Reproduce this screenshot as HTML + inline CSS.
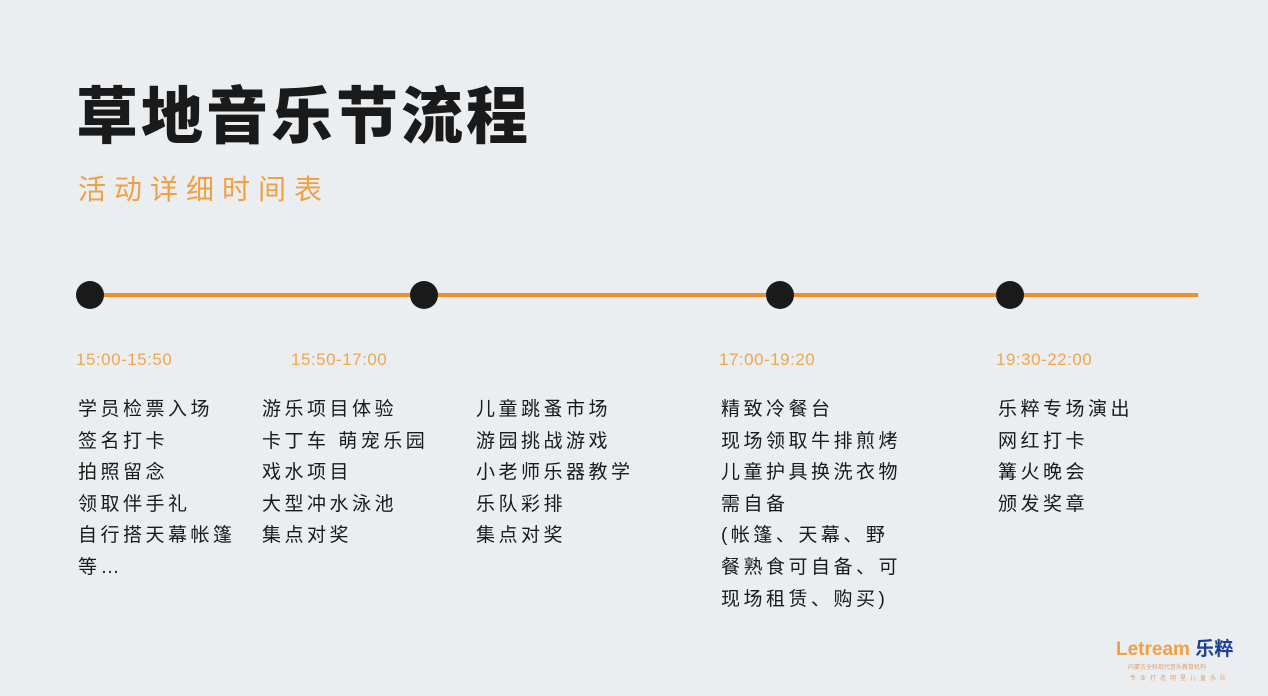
<!DOCTYPE html>
<html><head><meta charset="utf-8"><style>
body{margin:0;width:1268px;height:696px;background:#eaeef1;position:relative;overflow:hidden;font-family:"Liberation Sans","Noto Sans CJK SC",sans-serif}
.a{position:absolute;white-space:nowrap}
.t{left:76px;top:66px;font-size:62px;font-weight:900;color:#1a1a1a;letter-spacing:3px}
.s{left:78px;top:168px;font-size:28px;color:#f0a040;letter-spacing:8px}
.line{left:90px;top:293px;width:1108px;height:4px;background:#f0902a}
.dot{width:28px;height:28px;border-radius:50%;background:#1a1a1a;top:281px}
.tm{top:350px;font-size:17px;color:#f0a650;letter-spacing:0.5px}
.c{top:394px;font-size:19px;line-height:31.6px;color:#1a1a1a;letter-spacing:3.5px}
</style></head><body>
<div class="a t">草地音乐节流程</div>
<div class="a s">活动详细时间表</div>
<div class="a line"></div>
<div class="a dot" style="left:76px"></div>
<div class="a dot" style="left:410px"></div>
<div class="a dot" style="left:766px"></div>
<div class="a dot" style="left:996px"></div>
<div class="a tm" style="left:76px">15:00-15:50</div>
<div class="a tm" style="left:291px">15:50-17:00</div>
<div class="a tm" style="left:719px">17:00-19:20</div>
<div class="a tm" style="left:996px">19:30-22:00</div>
<div class="a c" style="left:78px">学员检票入场<br>签名打卡<br>拍照留念<br>领取伴手礼<br>自行搭天幕帐篷<br>等…</div>
<div class="a c" style="left:262px">游乐项目体验<br>卡丁车 萌宠乐园<br>戏水项目<br>大型冲水泳池<br>集点对奖</div>
<div class="a c" style="left:476px">儿童跳蚤市场<br>游园挑战游戏<br>小老师乐器教学<br>乐队彩排<br>集点对奖</div>
<div class="a c" style="left:721px">精致冷餐台<br>现场领取牛排煎烤<br>儿童护具换洗衣物<br>需自备<br>(帐篷、天幕、野<br>餐熟食可自备、可<br>现场租赁、购买)</div>
<div class="a c" style="left:998px">乐粹专场演出<br>网红打卡<br>篝火晚会<br>颁发奖章</div>
<div class="a" style="left:1116px;top:634px;font-size:19px;font-weight:bold;color:#f0a040">Letream <span style="color:#1f3f8f">乐粹</span></div>
<div class="a" style="left:1128px;top:662px;font-size:6px;color:#e0a070">内蒙古全科现代音乐教育机构</div>
<div class="a" style="left:1130px;top:673px;font-size:6px;color:#e0a070;letter-spacing:4px">专业打造明星儿童乐队</div>
</body></html>
